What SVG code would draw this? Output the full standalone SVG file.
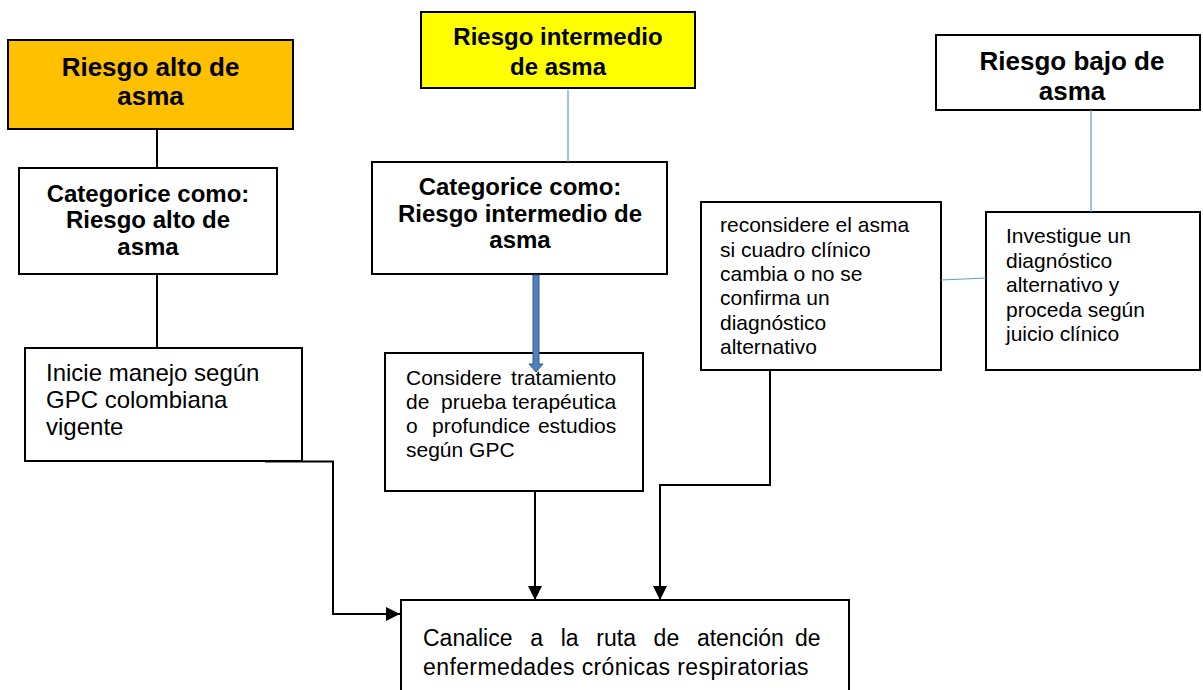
<svg xmlns="http://www.w3.org/2000/svg" width="1203" height="690" viewBox="0 0 1203 690">
<style>
.box{fill:#fff;stroke:#000;stroke-width:2}
.tb{font-family:"Liberation Sans",Arial,sans-serif;font-weight:bold;fill:#000;text-anchor:middle}
.tr{font-family:"Liberation Sans",Arial,sans-serif;fill:#000}
.con{fill:none;stroke:#000;stroke-width:2}
.blue{fill:none;stroke:#5B9BD5;stroke-width:1.2}
</style>
<defs>
<marker id="ah" markerUnits="userSpaceOnUse" markerWidth="14" markerHeight="14" refX="14" refY="7" orient="auto">
<path d="M0,0 L14,7 L0,14 z" fill="#000"/>
</marker>
</defs>
<rect width="1203" height="690" fill="#fff"/>

<g id="riesgo-alto">
<rect class="box" x="8" y="40" width="285" height="89" style="fill:#FFC000"/>
<text class="tb" font-size="26"><tspan x="150.5" y="76">Riesgo alto de</tspan><tspan x="150.5" y="105">asma</tspan></text>
</g>

<g id="categorice-alto">
<rect class="box" x="19" y="168" width="258" height="106"/>
<text class="tb" font-size="24"><tspan x="148" y="202">Categorice como:</tspan><tspan x="148" y="228">Riesgo alto de</tspan><tspan x="148" y="255">asma</tspan></text>
</g>

<g id="inicie-manejo">
<rect class="box" x="25" y="348" width="277" height="113"/>
<text class="tr" font-size="24"><tspan x="46" y="381">Inicie manejo según</tspan><tspan x="46" y="408">GPC colombiana</tspan><tspan x="46" y="435">vigente</tspan></text>
</g>

<g id="riesgo-intermedio">
<rect class="box" x="421" y="12" width="274" height="76" style="fill:#FFFF00"/>
<text class="tb" font-size="24"><tspan x="558" y="45">Riesgo intermedio</tspan><tspan x="558" y="75">de asma</tspan></text>
</g>

<g id="categorice-intermedio">
<rect class="box" x="372" y="162" width="295" height="112"/>
<text class="tb" font-size="24"><tspan x="520" y="195">Categorice como:</tspan><tspan x="520" y="222">Riesgo intermedio de</tspan><tspan x="520" y="248">asma</tspan></text>
</g>

<g id="considere-tratamiento">
<rect class="box" x="385" y="353" width="258" height="138"/>
<text class="tr" font-size="21">
<tspan x="406" y="385">Considere</tspan><tspan x="622" y="385" text-anchor="end">tratamiento</tspan>
<tspan x="406" y="409">de</tspan><tspan x="441" y="409">prueba</tspan><tspan x="622" y="409" text-anchor="end">terapéutica</tspan>
<tspan x="406" y="433">o</tspan><tspan x="432" y="433">profundice</tspan><tspan x="622" y="433" text-anchor="end">estudios</tspan>
<tspan x="406" y="457">según GPC</tspan>
</text>
</g>

<g id="reconsidere">
<rect class="box" x="701" y="202" width="240" height="168"/>
<text class="tr" font-size="21"><tspan x="720" y="232">reconsidere el asma</tspan><tspan x="720" y="257">si cuadro clínico</tspan><tspan x="720" y="281">cambia o no se</tspan><tspan x="720" y="305">confirma un</tspan><tspan x="720" y="330">diagnóstico</tspan><tspan x="720" y="354">alternativo</tspan></text>
</g>

<g id="riesgo-bajo">
<rect class="box" x="936" y="35" width="264" height="75"/>
<text class="tb" font-size="26"><tspan x="1072" y="70">Riesgo bajo de</tspan><tspan x="1072" y="100">asma</tspan></text>
</g>

<g id="investigue">
<rect class="box" x="986" y="212" width="214" height="158"/>
<text class="tr" font-size="21"><tspan x="1006" y="243">Investigue un</tspan><tspan x="1006" y="267.5">diagnóstico</tspan><tspan x="1006" y="292">alternativo y</tspan><tspan x="1006" y="316.5">proceda según</tspan><tspan x="1006" y="341">juicio clínico</tspan></text>
</g>

<g id="canalice">
<rect class="box" x="401" y="600" width="448" height="100"/>
<text class="tr" font-size="23">
<tspan x="423" y="646">Canalice</tspan><tspan x="530.2" y="646">a</tspan><tspan x="560.7" y="646">la</tspan><tspan x="596.3" y="646">ruta</tspan><tspan x="653.6" y="646">de</tspan><tspan x="696.9" y="646">atención</tspan><tspan x="827" y="646" text-anchor="end">de</tspan>
<tspan x="423" y="675" letter-spacing="0.4">enfermedades crónicas respiratorias</tspan>
</text>
</g>

<g id="connectors">
<line class="con" x1="157" y1="129" x2="157" y2="168"/>
<line class="con" x1="157" y1="274" x2="157" y2="348"/>
<line class="blue" x1="568" y1="90" x2="568" y2="162"/>
<line class="blue" x1="1091" y1="110" x2="1091" y2="212"/>
<line class="blue" x1="941" y1="280" x2="986" y2="278"/>
<path d="M533,275 H539 V364 H543 L536,372 L529,364 H533 Z" fill="#4F81BD" stroke="#385D8A" stroke-width="1"/>
<path class="con" d="M265,461.5 H333 V614 H400" marker-end="url(#ah)"/>
<path class="con" d="M535,492 V600" marker-end="url(#ah)"/>
<path class="con" d="M770,371 V485 H660 V600" marker-end="url(#ah)"/>
</g>
</svg>
